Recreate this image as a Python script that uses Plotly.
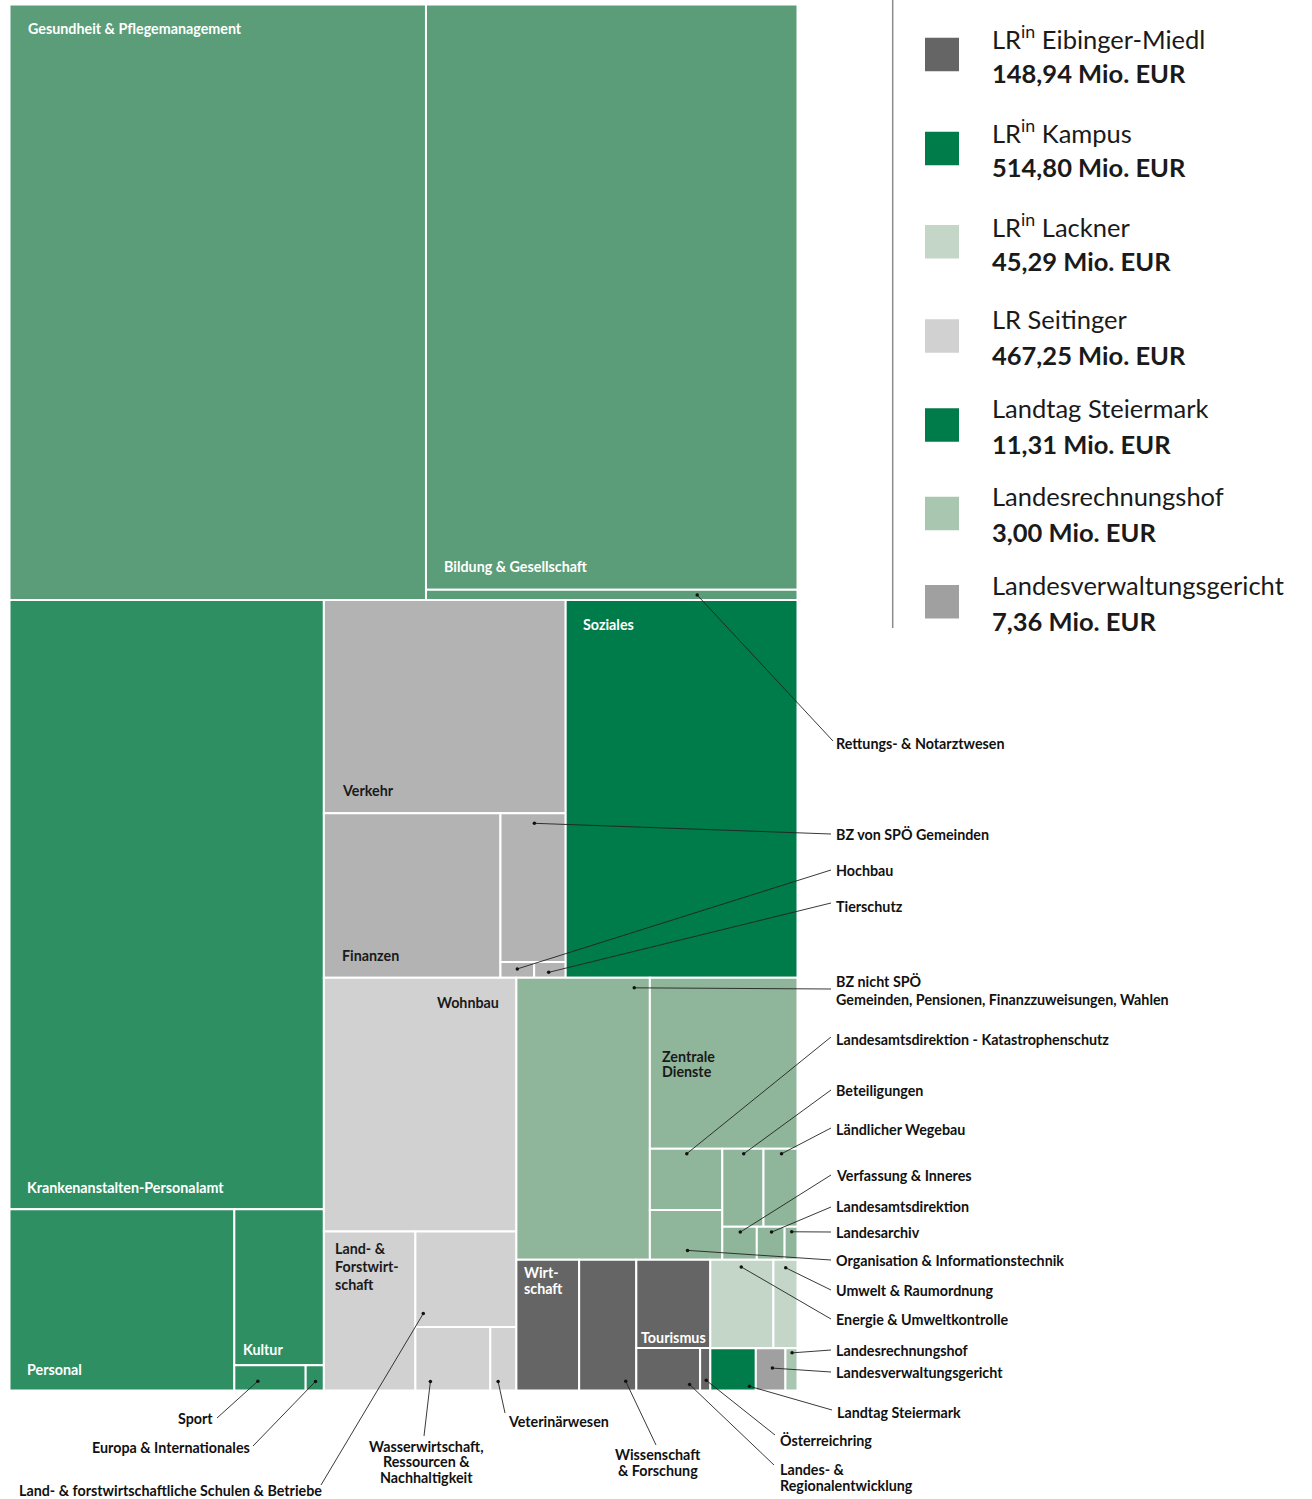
import plotly.graph_objects as go

# ---------------- data ----------------
departments = [
    "Gesundheit & Pflegemanagement", "Bildung & Gesellschaft", "Rettungs- & Notarztwesen",
    "Krankenanstalten-Personalamt", "Personal", "Kultur", "Sport", "Europa & Internationales",
    "Verkehr", "Finanzen", "BZ von SPÖ Gemeinden", "Hochbau", "Tierschutz",
    "Soziales",
    "Wohnbau", "Land- & Forstwirtschaft", "Land- & forstwirtschaftliche Schulen & Betriebe",
    "Wasserwirtschaft, Ressourcen & Nachhaltigkeit", "Veterinärwesen",
    "BZ nicht SPÖ Gemeinden, Pensionen, Finanzzuweisungen, Wahlen", "Zentrale Dienste",
    "Landesamtsdirektion - Katastrophenschutz", "Organisation & Informationstechnik",
    "Beteiligungen", "Ländlicher Wegebau", "Verfassung & Inneres", "Landesamtsdirektion", "Landesarchiv",
    "Wirtschaft", "Wissenschaft & Forschung", "Tourismus", "Landes- & Regionalentwicklung", "Österreichring",
    "Energie & Umweltkontrolle", "Umwelt & Raumordnung",
    "Landtag Steiermark", "Landesverwaltungsgericht", "Landesrechnungshof",
]
values = [
    1457.8, 1278.4, 22.0,
    1126.1, 239.5, 82.1, 10.6, 2.7,
    303.4, 170.6, 57.0, 3.1, 2.9,
    514.80,
    287.4, 85.5, 56.6, 28.0, 9.75,
    221.4, 148.5, 26.1, 21.2, 18.9, 15.6, 6.7, 5.4, 2.5,
    48.2, 43.9, 38.4, 15.9, 2.54,
    32.79, 12.50,
    11.31, 7.36, 3.00,
]
groups = [
    "g_gesundheit", "g_gesundheit", "g_gesundheit",
    "g_personal", "g_personal", "g_personal", "g_personal", "g_personal",
    "g_finanzen", "g_finanzen", "g_finanzen", "g_finanzen", "g_finanzen",
    "Kampus",
    "Seitinger", "Seitinger", "Seitinger", "Seitinger", "Seitinger",
    "g_zentral", "g_zentral", "g_zentral", "g_zentral", "g_zentral", "g_zentral", "g_zentral", "g_zentral", "g_zentral",
    "Eibinger-Miedl", "Eibinger-Miedl", "Eibinger-Miedl", "Eibinger-Miedl", "Eibinger-Miedl",
    "Lackner", "Lackner",
    "Landtag", "LVwG", "LRH",
]
group_colors = {
    "g_gesundheit": "#5a9d78", "g_personal": "#2e8f63", "g_finanzen": "#b3b3b3",
    "Kampus": "#007b4a", "Seitinger": "#d1d1d1", "g_zentral": "#8fb59a",
    "Eibinger-Miedl": "#656565", "Lackner": "#c3d6c8", "Landtag": "#007b4a",
    "LVwG": "#a0a0a0", "LRH": "#a9c6b1",
}

legend_names = ["LR<sup>in</sup> Eibinger-Miedl", "LR<sup>in</sup> Kampus", "LR<sup>in</sup> Lackner",
                "LR Seitinger", "Landtag Steiermark", "Landesrechnungshof", "Landesverwaltungsgericht"]
legend_totals = [148.94, 514.80, 45.29, 467.25, 11.31, 3.00, 7.36]
legend_groups = ["Eibinger-Miedl", "Kampus", "Lackner", "Seitinger", "Landtag", "LRH", "LVwG"]

# nesting of the treemap tiles (h = side by side, v = stacked)
D = departments
TREE = ("v", [
    ("h", [D[0], ("v", [D[1], D[2]])]),
    ("h", [
        ("v", [D[3], ("h", [D[4], ("v", [D[5], ("h", [D[6], D[7]])])])]),
        ("v", [
            ("h", [("v", [D[8], ("h", [D[9], ("v", [D[10], ("h", [D[11], D[12]])])])]), D[13]]),
            ("h", [
                ("v", [D[14], ("h", [D[15], ("v", [D[16], ("h", [D[17], D[18]])])])]),
                ("v", [
                    ("h", [D[19], ("v", [D[20], ("h", [("v", [D[21], D[22]]),
                                                        ("v", [("h", [D[23], D[24]]), ("h", [D[25], D[26], D[27]])])])])]),
                    ("h", [
                        ("h", [D[28], D[29], ("v", [D[30], ("h", [D[31], D[32]])])]),
                        ("v", [("h", [D[33], D[34]]), ("h", [D[35], D[36], D[37]])]),
                    ]),
                ]),
            ]),
        ]),
    ]),
])

val = dict(zip(departments, values))
grp = dict(zip(departments, groups))


def node_value(n):
    if isinstance(n, str):
        return val[n]
    return sum(node_value(c) for c in n[1])


def tile(n, x0, y0, x1, y1, out):
    if isinstance(n, str):
        out[n] = (x0, y0, x1, y1)
        return
    d, children = n
    tot = sum(node_value(c) for c in children)
    pos = x0 if d == "h" else y0
    for c in children:
        f = node_value(c) / tot
        if d == "h":
            w = (x1 - x0) * f
            tile(c, pos, y0, pos + w, y1, out)
        else:
            w = (y1 - y0) * f
            tile(c, x0, pos, x1, pos + w, out)
        pos += w


rects = {}
FRAME = (9.5, 4.5, 797.5, 1390.5)
tile(TREE, *FRAME, rects)

fig = go.Figure()
shapes = []
for name in departments:
    x0, y0, x1, y1 = rects[name]
    shapes.append(dict(type="rect", xref="x", yref="y", x0=x0, y0=y0, x1=x1, y1=y1,
                       fillcolor=group_colors[grp[name]], line=dict(color="white", width=2), layer="below"))

FONT = "Lato, 'Open Sans', sans-serif"
LS = 14.3
ann = []


def add_text(x, y, text, xanchor, color, spacing=16.0, size=LS, bold=True):
    lines = text.split("\n")
    n = len(lines)
    shift = {"left": -2, "right": 2, "center": 0}[xanchor]
    for i, line in enumerate(lines):
        yy = y + (i - (n - 1) / 2) * spacing
        ann.append(dict(x=x + shift, y=yy, xref="x", yref="y",
                        text=("<b>" + line + "</b>") if bold else line, showarrow=False,
                        xanchor=xanchor, yanchor="middle", align=xanchor,
                        font=dict(family=FONT, size=size, color=color)))


# labels inside cells: (name, text, mode, dx, dy, color, line spacing)
inside = [
    (D[0], "Gesundheit & Pflegemanagement", "tl", 18, 23.5, "white", 16),
    (D[1], "Bildung & Gesellschaft", "bl", 18.5, 23, "white", 16),
    (D[13], "Soziales", "tl", 17.5, 25, "white", 16),
    (D[8], "Verkehr", "bl", 18, 22.5, "#1a1a1a", 16),
    (D[9], "Finanzen", "bl", 18, 22.5, "#1a1a1a", 16),
    (D[3], "Krankenanstalten-Personalamt", "bl", 17.5, 22, "white", 16),
    (D[4], "Personal", "bl", 17, 21.5, "white", 16),
    (D[5], "Kultur", "bl", 8.5, 16, "white", 16),
    (D[30], "Tourismus", "bl", 5, 11, "white", 16),
    (D[28], "Wirt-\nschaft", "tl", 8, 20.5, "white", 15.6),
    (D[15], "Land- &\nForstwirt-\nschaft", "tl", 11, 35, "#1a1a1a", 17.7),
    (D[20], "Zentrale\nDienste", "ml", 12, 0.5, "#1a1a1a", 15),
    (D[14], "Wohnbau", "tr", 17, 25, "#1a1a1a", 16),
]
for name, text, mode, dx, dy, col, sp in inside:
    x0, y0, x1, y1 = rects[name]
    if mode == "tl":
        x, y, xa = x0 + dx, y0 + dy, "left"
    elif mode == "bl":
        x, y, xa = x0 + dx, y1 - dy, "left"
    elif mode == "tr":
        x, y, xa = x1 - dx, y0 + dy, "right"
    else:
        x, y, xa = x0 + dx, (y0 + y1) / 2 + dy, "left"
    add_text(x, y, text, xa, col, sp)

# external labels: (name, text, text_x, text_y, xanchor, line_x, line_y, fx, fy, spacing)
outside = [
    (D[2], "Rettungs- & Notarztwesen", 836, 743, "left", 833, 741, 0.73, 0.52, 16),
    (D[10], "BZ von SPÖ Gemeinden", 836, 834, "left", 831, 834, 0.52, 0.067, 16),
    (D[11], "Hochbau", 836, 870, "left", 831, 870, 0.50, 0.44, 16),
    (D[12], "Tierschutz", 836, 906, "left", 831, 903, 0.46, 0.66, 16),
    (D[19], "BZ nicht SPÖ\nGemeinden, Pensionen, Finanzzuweisungen, Wahlen", 836, 990, "left", 831, 989, 0.883, 0.036, 18),
    (D[21], "Landesamtsdirektion - Katastrophenschutz", 836, 1039, "left", 831, 1037, 0.51, 0.08, 16),
    (D[23], "Beteiligungen", 836, 1090, "left", 831, 1090, 0.52, 0.064, 16),
    (D[24], "Ländlicher Wegebau", 836, 1129, "left", 831, 1128, 0.53, 0.064, 16),
    (D[25], "Verfassung & Inneres", 836, 1175, "left", 831, 1175, 0.52, 0.16, 16),
    (D[26], "Landesamtsdirektion", 836, 1206, "left", 831, 1207, 0.53, 0.16, 16),
    (D[27], "Landesarchiv", 836, 1232, "left", 831, 1232, 0.55, 0.15, 16),
    (D[22], "Organisation & Informationstechnik", 836, 1260, "left", 831, 1260, 0.52, 0.81, 16),
    (D[34], "Umwelt & Raumordnung", 836, 1290, "left", 831, 1290, 0.51, 0.09, 16),
    (D[33], "Energie & Umweltkontrolle", 836, 1319, "left", 831, 1319, 0.49, 0.08, 16),
    (D[37], "Landesrechnungshof", 836, 1350, "left", 831, 1350, 0.55, 0.11, 16),
    (D[36], "Landesverwaltungsgericht", 836, 1372, "left", 831, 1372, 0.56, 0.47, 16),
    (D[35], "Landtag Steiermark", 837, 1412, "left", 832, 1410, 0.86, 0.90, 16),
    (D[32], "Österreichring", 780, 1440, "left", 775, 1435, 0.60, 0.76, 16),
    (D[31], "Landes- &\nRegionalentwicklung", 780, 1477, "left", 774, 1465, 0.835, 0.86, 16),
    (D[29], "Wissenschaft\n& Forschung", 658, 1462, "center", 656, 1445, 0.815, 0.93, 16),
    (D[18], "Veterinärwesen", 508, 1421, "left", 505, 1413, 0.30, 0.86, 16),
    (D[17], "Wasserwirtschaft,\nRessourcen &\nNachhaltigkeit", 426, 1461.5, "center", 424, 1436, 0.20, 0.86, 15.5),
    (D[16], "Land- & forstwirtschaftliche Schulen & Betriebe", 170, 1490, "center", 321, 1485, 0.078, 0.86, 16),
    (D[6], "Sport", 213, 1418, "right", 217, 1418, 0.33, 0.63, 16),
    (D[7], "Europa & Internationales", 250, 1447, "right", 253, 1446, 0.54, 0.64, 16),
]
lx, ly, dxs, dys = [], [], [], []
for name, text, tx, ty, xa, ex, ey, fx, fy, sp in outside:
    x0, y0, x1, y1 = rects[name]
    px, py = x0 + fx * (x1 - x0), y0 + fy * (y1 - y0)
    lx += [px, ex, None]
    ly += [py, ey, None]
    dxs.append(px)
    dys.append(py)
    add_text(tx, ty, text, xa, "#111111", sp)

fig.add_trace(go.Scatter(x=lx, y=ly, mode="lines", line=dict(color="#222222", width=0.9),
                         hoverinfo="skip", showlegend=False))
fig.add_trace(go.Scatter(x=dxs, y=dys, mode="markers", marker=dict(color="#111111", size=3.5),
                         hoverinfo="skip", showlegend=False))

# legend
legend_tops = [37.7, 131.7, 225.0, 319.3, 408.3, 496.7, 585.0]
for nm, tot, g, top in zip(legend_names, legend_totals, legend_groups, legend_tops):
    shapes.append(dict(type="rect", xref="x", yref="y", x0=925, x1=959, y0=top, y1=top + 33.5,
                       fillcolor=group_colors[g], line=dict(width=0)))
    ann.append(dict(x=990, y=top - 0.5, xref="x", yref="y", text=nm, showarrow=False,
                    xanchor="left", yanchor="middle", font=dict(family=FONT, size=25.5, color="#1a1a1a")))
    ann.append(dict(x=990, y=top + 35.5, xref="x", yref="y",
                    text="<b>" + f"{tot:.2f}".replace(".", ",") + " Mio. EUR</b>", showarrow=False,
                    xanchor="left", yanchor="middle", font=dict(family=FONT, size=25.5, color="#1a1a1a")))
shapes.append(dict(type="line", xref="x", yref="y", x0=892.7, x1=892.7, y0=0, y1=628,
                   line=dict(color="#8c8c8c", width=1.5)))

fig.update_layout(
    width=1312, height=1499, margin=dict(l=0, r=0, t=0, b=0),
    paper_bgcolor="white", plot_bgcolor="white",
    xaxis=dict(range=[0, 1312], visible=False, fixedrange=True),
    yaxis=dict(range=[1499, 0], visible=False, fixedrange=True),
    shapes=shapes, annotations=ann, showlegend=False,
)
fig.write_html("out.html", config={"displayModeBar": False},
               post_script="document.body.style.margin='0';document.body.style.overflow='hidden';")
